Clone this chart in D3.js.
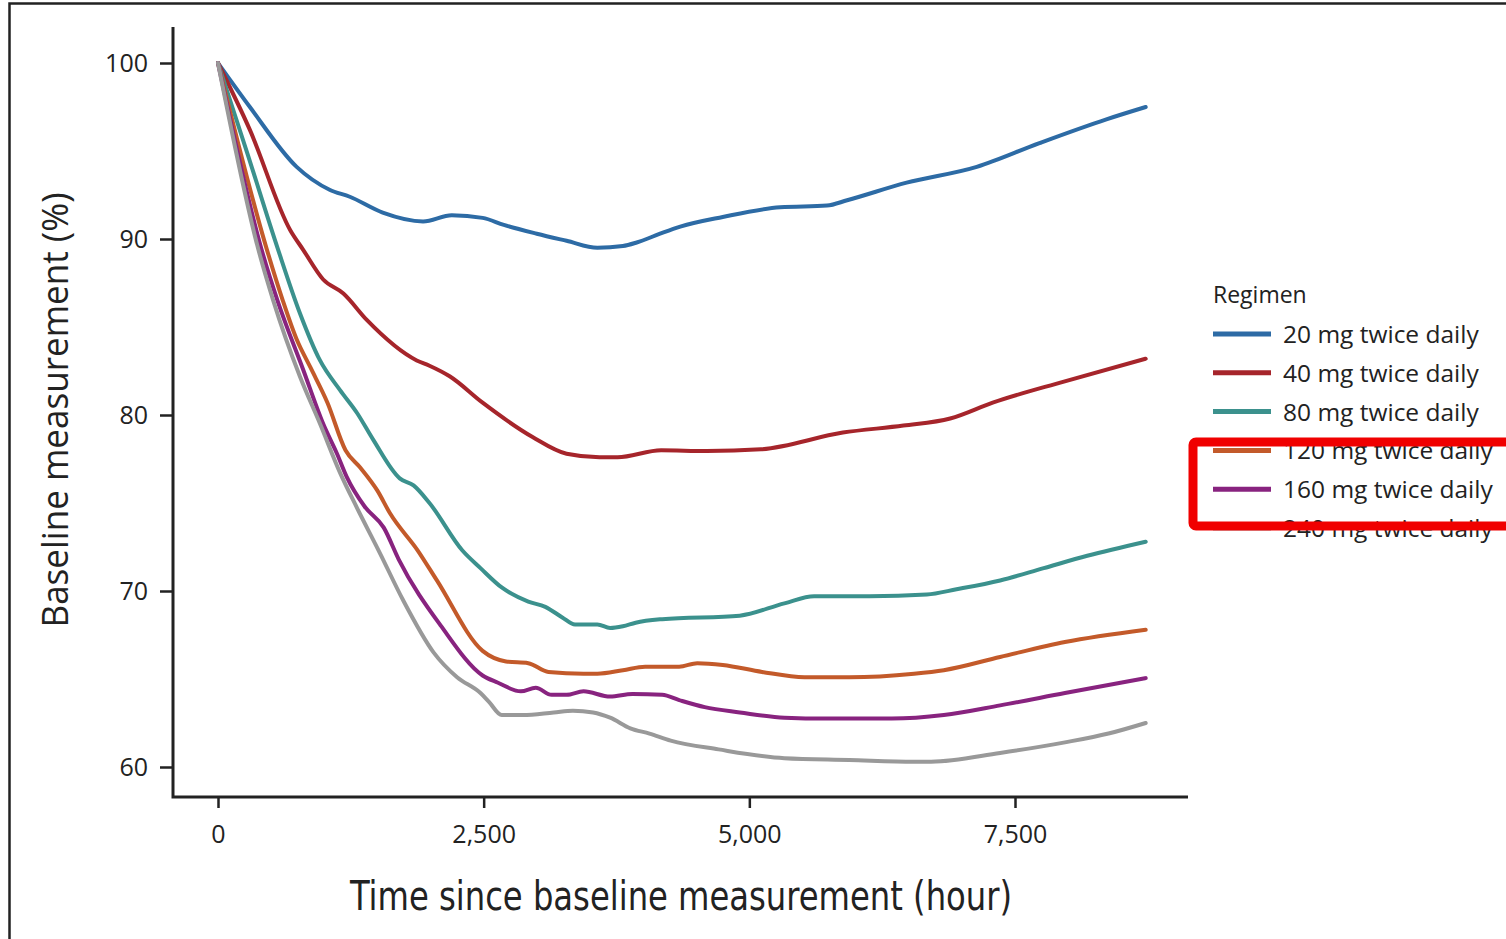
<!DOCTYPE html>
<html>
<head>
<meta charset="utf-8">
<script src="https://cdn.jsdelivr.net/npm/d3@7"></script>
<style>
  body { margin: 0; background: #fff; }
  svg { display: block; }
</style>
</head>
<body>
<div id="chart"></div>
<script>
/* DATA (hour, % of baseline) */
const regimens = ["20 mg twice daily", "40 mg twice daily", "80 mg twice daily",
  "120 mg twice daily", "160 mg twice daily", "240 mg twice daily"];

const bid20 = [[0,100],[300,97.5],[740,94.1],[1050,92.8],[1240,92.4],[1550,91.5],[1930,91.0],
  [2200,91.35],[2490,91.2],[2690,90.8],[3000,90.3],[3280,89.9],[3570,89.5],[3810,89.6],[3940,89.8],
  [4160,90.3],[4350,90.7],[4750,91.25],[5290,91.8],[5730,91.9],[5920,92.2],[6480,93.2],[7140,94.1],
  [7730,95.45],[8360,96.8],[8730,97.5]];

const bid40 = [[0,100],[300,96.2],[680,90.5],[800,89.4],[990,87.7],[1180,86.9],[1400,85.4],
  [1870,83.1],[1990,82.8],[2180,82.2],[2490,80.7],[2960,78.75],[3280,77.8],[3590,77.6],[3760,77.6],
  [4170,78.0],[4600,77.95],[5110,78.05],[5880,79.0],[6450,79.4],[6890,79.8],[7290,80.7],[7960,81.9],
  [8730,83.2]];

const bid80 = [[0,100],[280,94.8],[560,89.5],[770,85.8],[960,83.1],[1150,81.4],[1310,80.1],
  [1460,78.6],[1710,76.4],[1840,76.0],[1990,75.0],[2300,72.3],[2470,71.3],[2670,70.2],[2920,69.4],
  [3080,69.1],[3240,68.5],[3360,68.1],[3570,68.1],[3690,67.9],[3810,68.0],[3930,68.2],[4180,68.4],
  [4910,68.6],[5330,69.3],[5610,69.7],[6130,69.7],[6670,69.8],[6950,70.1],[7360,70.6],[7770,71.3],
  [8180,72.0],[8730,72.8]];

const bid120 = [[0,100],[460,89.4],[610,86.5],[740,84.3],[870,82.7],[1030,80.7],[1200,78.0],
  [1340,77.0],[1500,75.7],[1620,74.4],[1880,72.3],[2060,70.6],[2490,66.6],[2710,66.0],[2920,65.9],
  [3110,65.4],[3440,65.3],[3570,65.3],[3810,65.5],[4020,65.7],[4340,65.7],[4510,65.9],[4750,65.8],
  [5120,65.4],[5520,65.1],[5940,65.1],[6550,65.3],[6830,65.5],[7360,66.25],[7970,67.1],[8730,67.8]];

const bid160 = [[0,100],[410,89.4],[560,86.5],[800,82.6],[990,79.5],[1120,77.8],[1210,76.5],
  [1380,74.8],[1560,73.6],[1700,71.8],[2100,68.0],[2490,65.2],[2630,64.8],[2850,64.3],[2990,64.5],
  [3140,64.1],[3280,64.1],[3440,64.3],[3690,64.0],[3900,64.15],[4180,64.1],[4340,63.8],[4580,63.4],
  [4910,63.1],[5330,62.8],[5730,62.75],[6340,62.75],[6830,62.95],[7360,63.5],[7970,64.2],[8730,65.05]];

const bid240 = [[0,100],[380,89.4],[520,86.5],[770,82.2],[960,79.5],[1150,76.7],[1310,74.7],
  [1520,72.2],[1740,69.5],[2030,66.5],[2250,65.1],[2470,64.2],[2550,63.7],[2670,62.95],[2870,62.95],
  [3160,63.1],[3340,63.2],[3530,63.1],[3690,62.8],[3880,62.2],[4060,61.9],[4260,61.5],[4710,61.0],
  [5330,60.5],[5940,60.4],[6550,60.3],[6710,60.3],[7360,60.8],[7970,61.4],[8380,61.9],[8730,62.5]];

const xTicks = [0, 2500, 5000, 7500];
const yTicks = [60, 70, 80, 90, 100];

const seriesColors = ["#2d6ba5", "#a6252b", "#3b918d", "#c35a2a", "#88237f", "#999999"];

/* SETUP */
const width = 1506, height = 939;
const allSeries = [bid20, bid40, bid80, bid120, bid160, bid240];

const svg = d3.select("#chart").append("svg")
  .attr("width", width)
  .attr("height", height)
  .style("background", "#fff");

const x = d3.scaleLinear().domain([0, 7500]).range([218, 1015]);
const y = d3.scaleLinear().domain([60, 100]).range([767, 63]);

const ink = "#222";
const tickFont = "'Open Sans', 'Noto Sans', sans-serif";

// page frame (scan edge)
svg.append("path")
  .attr("d", "M9.5,939 V3.5 H1506")
  .attr("fill", "none")
  .attr("stroke", ink)
  .attr("stroke-width", 2.5);

// AXES
const yAxis = svg.append("g")
  .attr("transform", "translate(173,0)")
  .call(d3.axisLeft(y).tickValues(yTicks).tickSize(13).tickPadding(12));

const xAxis = svg.append("g")
  .attr("transform", "translate(0,797)")
  .call(d3.axisBottom(x).tickValues(xTicks).tickFormat(d3.format(",")).tickSize(11).tickPadding(17));

[yAxis, xAxis].forEach(g => {
  g.select(".domain").remove();
  g.selectAll(".tick line").attr("stroke", ink).attr("stroke-width", 2.5);
  g.selectAll(".tick text")
    .attr("fill", ink)
    .style("font-family", tickFont)
    .style("font-size", "25px");
});

svg.append("path")
  .attr("d", "M173,27 V797 H1188")
  .attr("fill", "none")
  .attr("stroke", ink)
  .attr("stroke-width", 3);

// axis titles
svg.append("text")
  .attr("x", 681)
  .attr("y", 910)
  .attr("text-anchor", "middle")
  .attr("textLength", 662)
  .attr("lengthAdjust", "spacingAndGlyphs")
  .attr("fill", ink)
  .style("font-family", "'Liberation Sans Narrow', 'DejaVu Sans Condensed', sans-serif")
  .style("font-size", "40px")
  .text("Time since baseline measurement (hour)");

svg.append("text")
  .attr("transform", "translate(68,410) rotate(-90)")
  .attr("text-anchor", "middle")
  .attr("textLength", 435)
  .attr("lengthAdjust", "spacingAndGlyphs")
  .attr("fill", ink)
  .style("font-family", tickFont)
  .style("font-size", "37px")
  .text("Baseline measurement (%)");

// LINES
const line = d3.line()
  .x(d => x(d[0]))
  .y(d => y(d[1]))
  .curve(d3.curveMonotoneX);

svg.selectAll("path.regimen")
  .data(allSeries)
  .join("path")
  .attr("class", "regimen")
  .attr("d", d => line(d))
  .attr("fill", "none")
  .attr("stroke", (d, i) => seriesColors[i])
  .attr("stroke-width", 4)
  .attr("stroke-linejoin", "round")
  .attr("stroke-linecap", "round");

// LEGEND
const legend = svg.append("g").attr("transform", "translate(1213,0)");

legend.append("text")
  .attr("x", 0)
  .attr("y", 303)
  .attr("fill", ink)
  .style("font-family", tickFont)
  .style("font-size", "23px")
  .style("font-weight", 500)
  .text("Regimen");

const items = legend.selectAll("g.item")
  .data(regimens)
  .join("g")
  .attr("class", "item")
  .attr("transform", (d, i) => `translate(0,${334 + i * 38.8})`);

items.append("line")
  .attr("x1", 0).attr("x2", 58)
  .attr("stroke", (d, i) => seriesColors[i])
  .attr("stroke-width", 5);

items.append("text")
  .attr("x", 70)
  .attr("y", 9)
  .attr("fill", ink)
  .style("font-family", tickFont)
  .style("font-size", "24.5px")
  .style("font-weight", 500)
  .text(d => d);

// red highlight box drawn over the legend
svg.append("rect")
  .attr("x", 1193)
  .attr("y", 442)
  .attr("width", 340)
  .attr("height", 84)
  .attr("rx", 3)
  .attr("fill", "none")
  .attr("stroke", "#f00000")
  .attr("stroke-width", 9);
</script>
</body>
</html>
